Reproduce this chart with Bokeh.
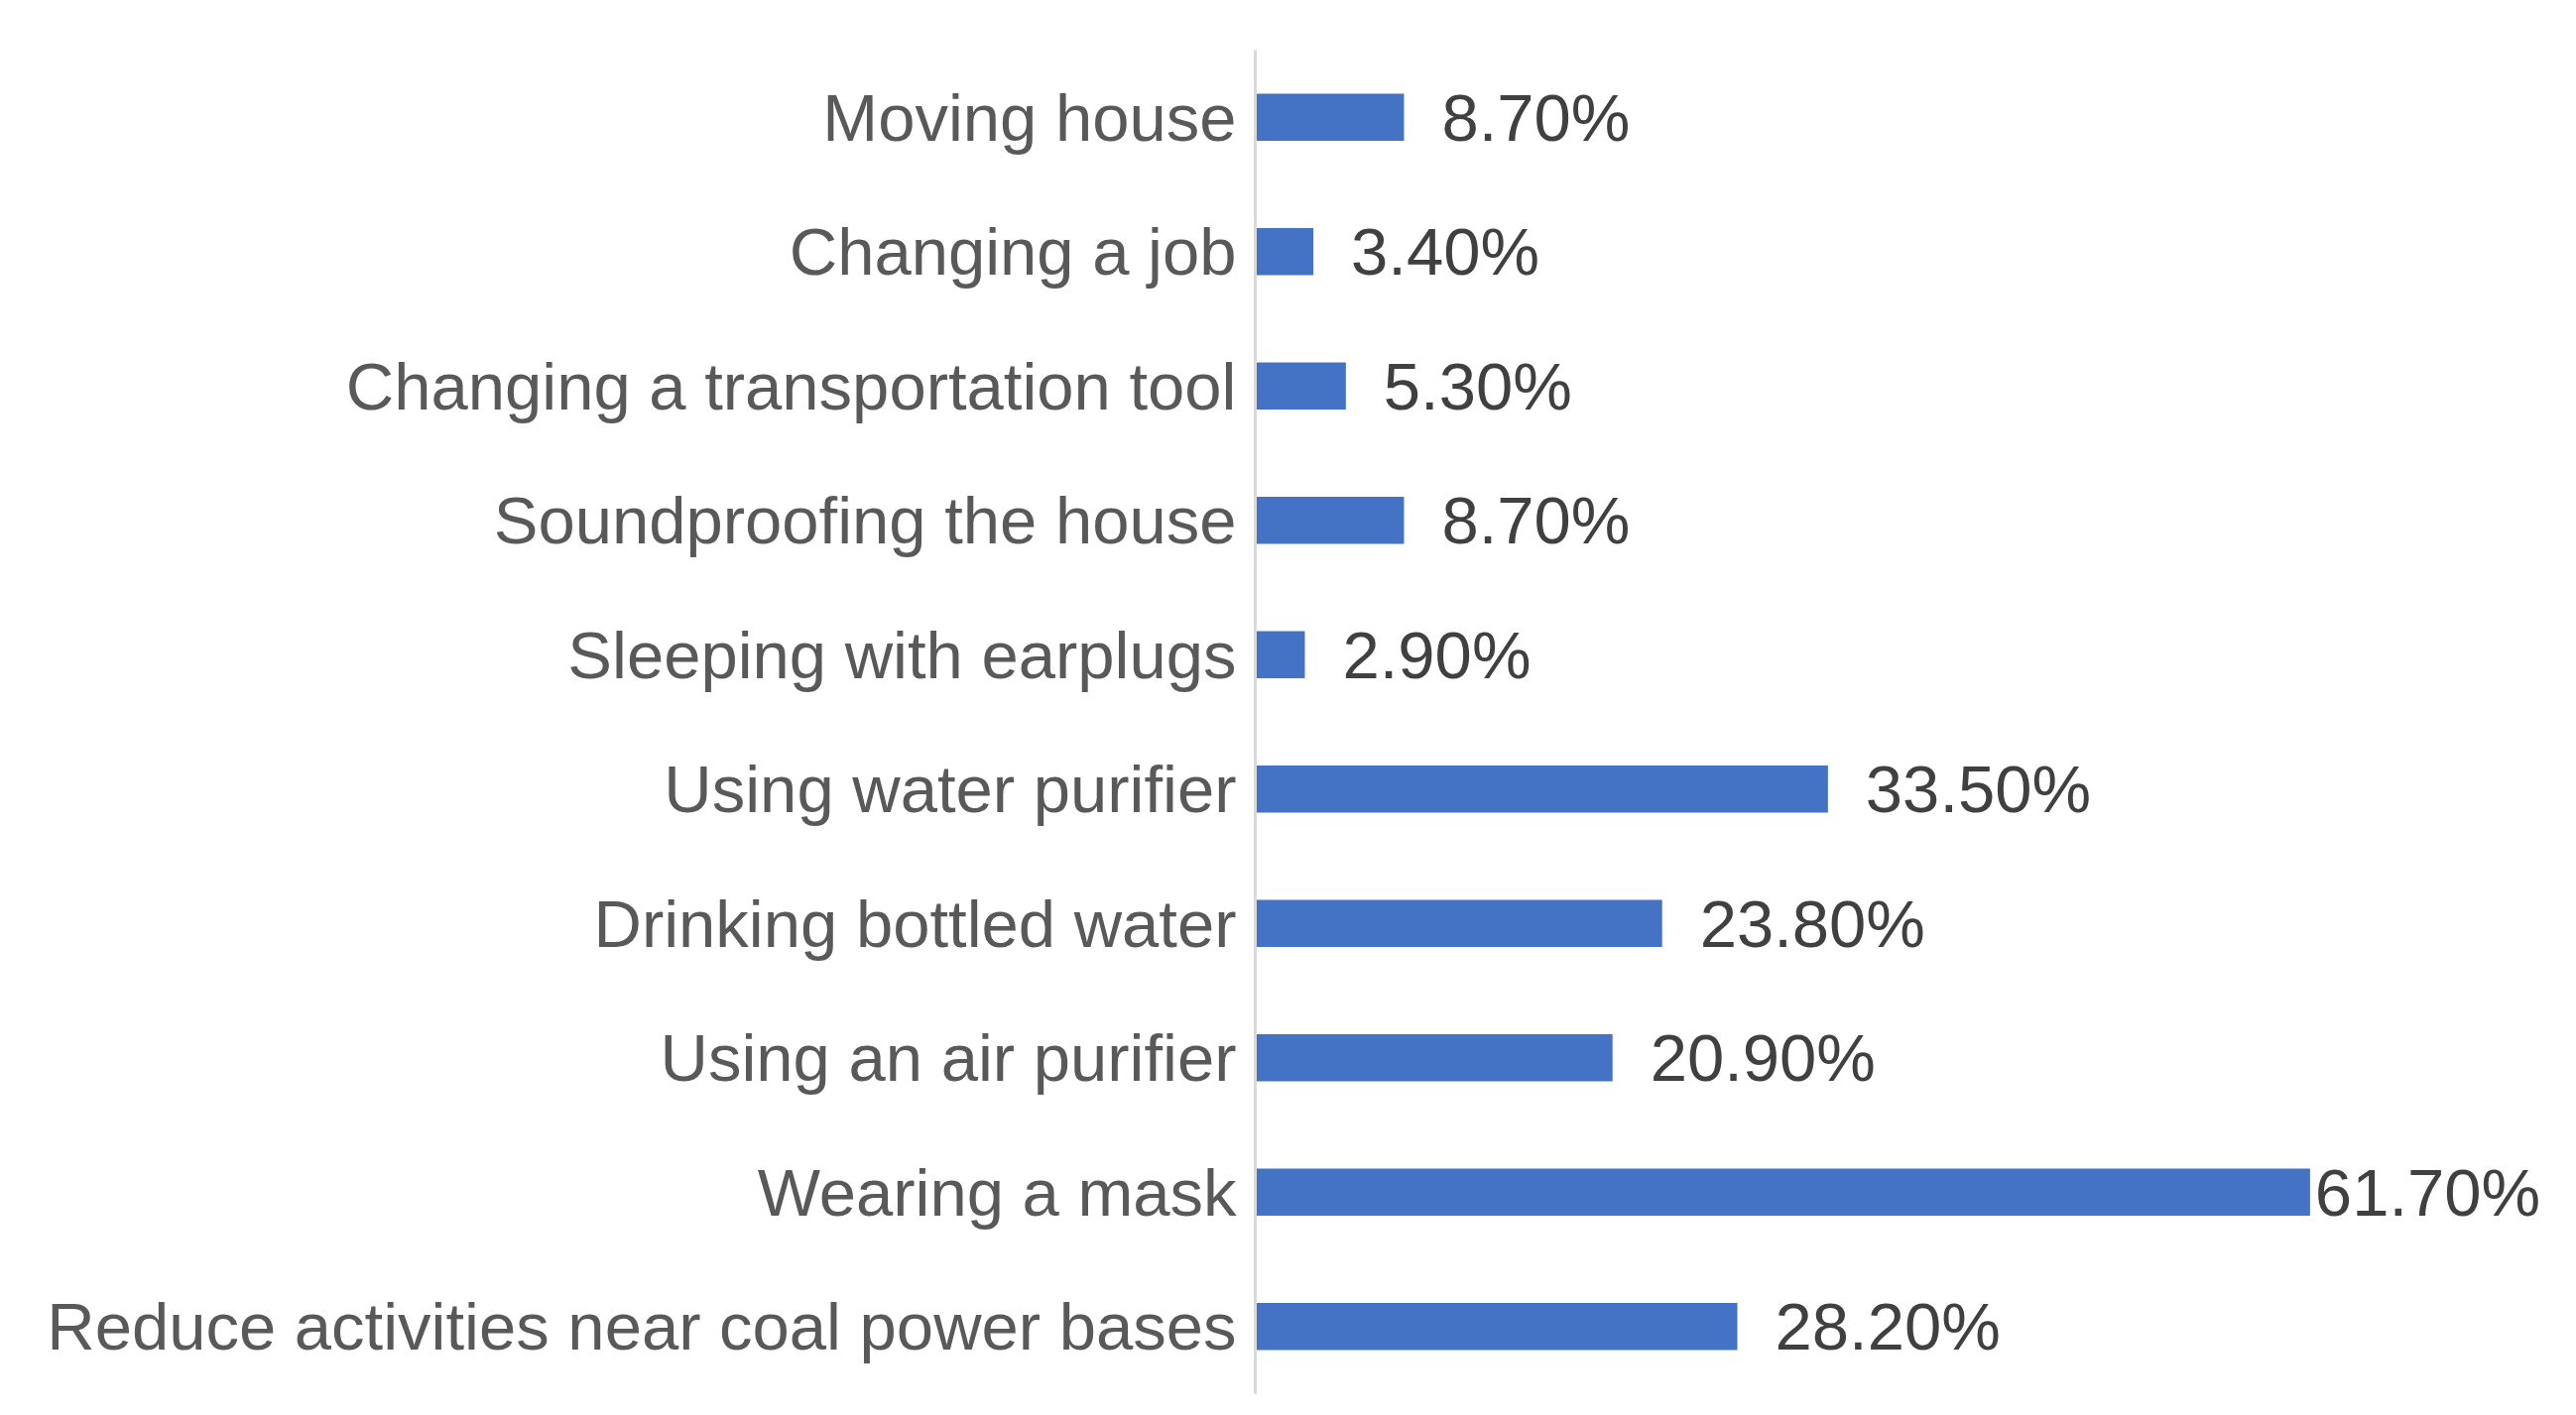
from bokeh.plotting import figure
from bokeh.models import ColumnDataSource, FactorRange, Range1d
from bokeh.embed import file_html
from bokeh.resources import INLINE
from bokeh.core.properties import value

# Categories top-to-bottom as in the reference
categories = [
    "Moving house",
    "Changing a job",
    "Changing a transportation tool",
    "Soundproofing the house",
    "Sleeping with earplugs",
    "Using water purifier",
    "Drinking bottled water",
    "Using an air purifier",
    "Wearing a mask",
    "Reduce activities near coal power bases",
]
percentages = [8.7, 3.4, 5.3, 8.7, 2.9, 33.5, 23.8, 20.9, 61.7, 28.2]

labels = [f"{v:.2f}%" for v in percentages]
vmax = max(percentages)
offsets = [5 if v == vmax else 38 for v in percentages]

src = ColumnDataSource(dict(cat=categories, val=percentages, lab=labels, off=offsets))

p = figure(
    width=2580, height=1410,
    y_range=FactorRange(factors=list(reversed(categories))),
    x_range=Range1d(0, 76.3),
    output_backend="svg", toolbar_location=None,
    x_axis_location=None,
    min_border_left=1265, min_border_top=50, min_border_bottom=5, min_border_right=0,
)
p.outline_line_color = None
p.xgrid.visible = False
p.ygrid.visible = False
p.background_fill_color = "white"

p.hbar(y="cat", right="val", left=0, height=0.35, source=src,
       fill_color="#4472C4", line_color=None)

p.text(x="val", y="cat", text="lab", source=src, x_offset="off",
       text_baseline="middle", text_align="left",
       text_font=value("Liberation Sans"), text_font_size="67px",
       text_color="#404040")

ax = p.yaxis[0]
ax.axis_line_color = "#d9d9d9"
ax.axis_line_width = 3
ax.major_tick_line_color = None
ax.minor_tick_line_color = None
ax.major_label_standoff = 13
ax.major_label_text_font = "Liberation Sans"
ax.major_label_text_font_size = "67px"
ax.major_label_text_color = "#595959"

open("out.html", "w").write(file_html(p, INLINE))
